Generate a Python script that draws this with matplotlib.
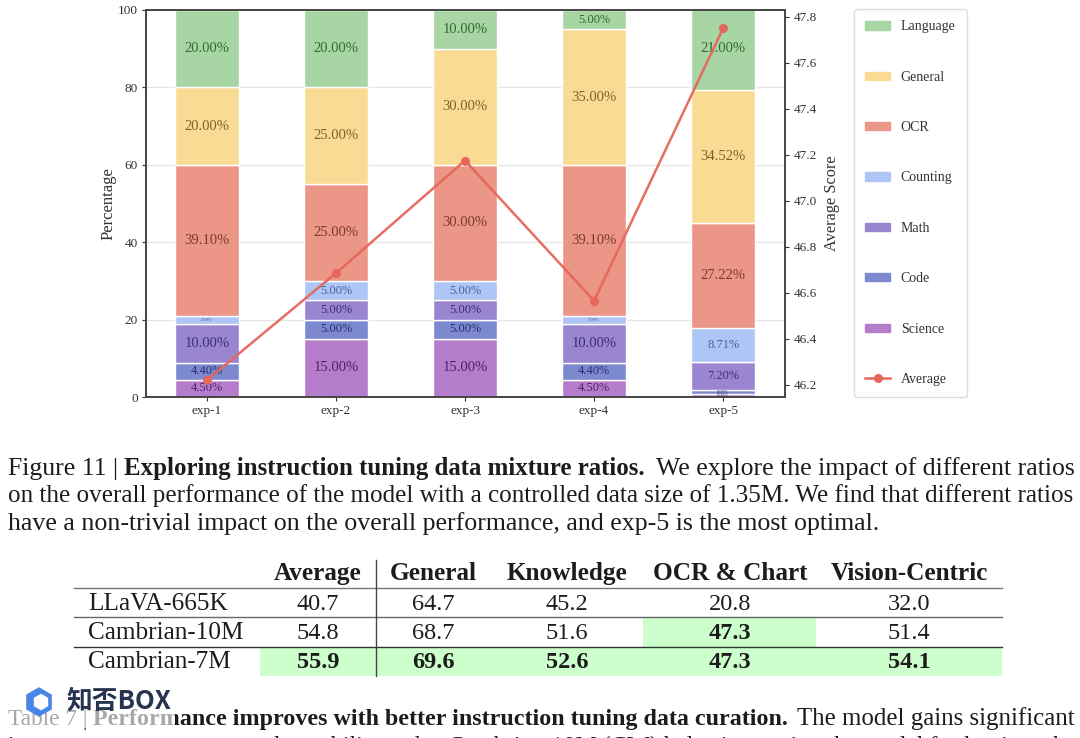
"""
    Stacked data mixture chart with the caption and table below it.
"""
import matplotlib
matplotlib.use("Agg")
import matplotlib.pyplot as plt
from matplotlib.patches import Rectangle, RegularPolygon
from matplotlib.lines import Line2D
import numpy as np

# chart data
experiments = ["exp-1", "exp-2", "exp-3", "exp-4", "exp-5"]
science = [4.5, 15, 15, 4.5, 0.9]
code = [4.4, 5, 5, 4.4, 0.9]
math_part = [10, 5, 5, 10, 7.2]
counting = [2, 5, 5, 2, 8.71]
ocr = [39.1, 25, 30, 39.1, 27.22]
general = [20, 25, 30, 35, 34.52]
language = [20, 20, 10, 5, 21]
average = [46.22, 46.685, 47.175, 46.565, 47.75]

names = ["Science", "Code", "Math", "Counting", "OCR", "General", "Language"]
parts = [science, code, math_part, counting, ocr, general, language]
colours = ["#b67ccc", "#7c89cf", "#9a85d1", "#aec6f5", "#ec9688", "#fadb94", "#a7d5a3"]
labelColours = ["#4d2463", "#27306e", "#3f2c7a", "#46609a", "#7a3a30", "#7d6328", "#2f6b33"]

# table data
tableCols = ["Average", "General", "Knowledge", "OCR & Chart", "Vision-Centric"]
tableRows = ["LLaVA-665K", "Cambrian-10M", "Cambrian-7M"]
tableVals = [["40.7", "64.7", "45.2", "20.8", "32.0"],
             ["54.8", "68.7", "51.6", "47.3", "51.4"],
             ["55.9", "69.6", "52.6", "47.3", "54.1"]]
tableBold = [[], [3], [0, 1, 2, 3, 4]]

serif = "Liberation Serif"
plt.rcParams["font.family"] = serif

W, H = 1080, 738
fig = plt.figure(figsize=(W / 100, H / 100), dpi=100, facecolor="white")

## bars
ax = fig.add_axes([146 / W, 1 - 397 / H, (785 - 146) / W, (397 - 10) / H])
x = np.arange(len(experiments))
bottom = np.zeros(len(experiments))
for name, part, col, labCol in zip(names, parts, colours, labelColours):
    ax.bar(x, part, 0.5, bottom=bottom, color=col, edgecolor="white", linewidth=1, zorder=2)
    for i in range(len(part)):
        if part[i] >= 10:
            size = 10.5
        elif part[i] >= 4:
            size = 8.9
        else:
            size = 3.3
        ax.text(x[i], bottom[i] + part[i] / 2, "%.2f%%" % part[i], ha="center", va="center",
                fontsize=size, color=labCol, zorder=3)
    bottom = bottom + np.array(part)

ax.set_xlim(-0.473, 4.48)
ax.set_ylim(0, 100)
ax.set_xticks(x)
ax.set_xticklabels(experiments)
ax.set_yticks([0, 20, 40, 60, 80, 100])
ax.tick_params(labelsize=9.5, length=3, color="#333333", labelcolor="#333333", pad=3)
ax.yaxis.grid(True, color="#e6e6e6", linewidth=0.9, zorder=0)
ax.set_axisbelow(True)
ax.set_ylabel("Percentage", fontsize=12, color="#333333", labelpad=1)
for s in ax.spines.values():
    s.set_color("#444444")
    s.set_linewidth(1.2)

## average line
ax2 = ax.twinx()
ax2.plot(x, average, color="#e5665a", linewidth=1.8, marker="o", markersize=5.5, alpha=0.95)
ax2.set_ylim(46.146, 47.83)
ax2.set_yticks([46.2, 46.4, 46.6, 46.8, 47.0, 47.2, 47.4, 47.6, 47.8])
ax2.tick_params(labelsize=9.5, length=3, color="#333333", labelcolor="#333333", pad=3)
ax2.set_ylabel("Average Score", fontsize=11.8, color="#333333", labelpad=5)
for s in ax2.spines.values():
    s.set_color("#444444")
    s.set_linewidth(1.2)

## legend
handles = [Rectangle((0, 0), 1, 1, color=c) for c in colours[::-1]]
handles.append(Line2D([], [], color="#e5665a", linewidth=1.8, marker="o", markersize=5.5))
fig.legend(handles, names[::-1] + ["Average"], loc="upper left",
           bbox_to_anchor=(854 / W, 1 - 9 / H), bbox_transform=fig.transFigure,
           fontsize=10, labelspacing=2.69, handlelength=1.8, handleheight=0.52,
           handletextpad=0.75, borderpad=0.82, borderaxespad=0, fancybox=True,
           edgecolor="#dddddd", framealpha=1, labelcolor="#333333")

## page layer in pixel coordinates
page = fig.add_axes([0, 0, 1, 1], zorder=5)
page.set_xlim(0, W)
page.set_ylim(H, 0)
page.axis("off")
page.patch.set_alpha(0)
renderer = fig.canvas.get_renderer()


def fitText(left, right, y, s, bold=False, colour="#1c1c1c", start=16):
    # scale the font until the piece spans left to right
    t = page.text(left, y, s, ha="left", va="baseline", fontsize=start, color=colour,
                  fontweight="bold" if bold else "normal", clip_on=False)
    t.set_fontsize(start * (right - left) / t.get_window_extent(renderer).width)
    return t


## caption
fitText(8, 118, 475, "Figure 11 |")
fitText(124, 647, 475, "Exploring instruction tuning data mixture ratios.", bold=True)
fitText(656, 1074, 475, "We explore the impact of different ratios")
fitText(8, 1074, 502, "on the overall performance of the model with a controlled data size of 1.35M. We find that different ratios")
fitText(8, 883, 530, "have a non-trivial impact on the overall performance, and exp-5 is the most optimal.")

## table
colCentres = [318, 433, 567, 730, 909]
rowBase = [610, 639, 668]
rowEdges = [588, 617, 646.5]
edgeColours = ["#777777", "#666666", "#333333"]
page.add_patch(Rectangle((260, 647), 742, 29, color="#ccffcc", linewidth=0, zorder=1))
page.add_patch(Rectangle((643, 618), 173, 28.5, color="#ccffcc", linewidth=0, zorder=1))
for i in range(len(tableCols)):
    page.text(colCentres[i], 580, tableCols[i], ha="center", va="baseline", fontsize=18.2,
              fontweight="bold", color="#1c1c1c", zorder=3)
for r in range(len(tableRows)):
    page.text(88, rowBase[r], tableRows[r], ha="left", va="baseline", fontsize=18.2,
              color="#1c1c1c", zorder=3)
    page.plot([74, 1002], [rowEdges[r], rowEdges[r]], color=edgeColours[r], linewidth=1, zorder=2)
    for c in range(len(tableCols)):
        page.text(colCentres[c], rowBase[r], tableVals[r][c], ha="center", va="baseline",
                  fontsize=17.5, color="#1c1c1c", zorder=3,
                  fontweight="bold" if c in tableBold[r] else "normal")
page.plot([376, 376], [560, 676], color="#444444", linewidth=1, zorder=2)

## last caption, cut off by the page edge
fitText(8, 88, 725, "Table 7 |")
fitText(93, 790, 725, "Performance improves with better instruction tuning data curation.", bold=True)
fitText(797, 1074, 725, "The model gains significant")
fitText(8, 1074, 752, "improvement across general capability tasks. Cambrian-10M (CW) helps improving the model further in tasks")

## watermark
page.add_patch(Rectangle((5, 696), 170, 32, color="white", alpha=0.62, linewidth=0, zorder=6))
page.add_patch(RegularPolygon((39, 702), 6, radius=14, color="#4a86e8", zorder=7))
page.add_patch(RegularPolygon((41, 702), 6, radius=7.5, color="white", zorder=8))
page.text(66, 709, "知否BOX", family=["Noto Sans CJK SC", "DejaVu Sans"], fontsize=18.5,
          fontweight="bold", color="#26344f", ha="left", va="baseline", zorder=8)

fig.savefig("out.png", dpi=100)
